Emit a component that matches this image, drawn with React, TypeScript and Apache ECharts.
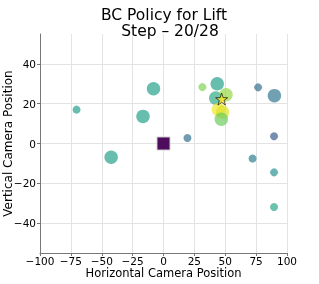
import React, { useEffect, useRef } from "react";
import * as echarts from "echarts";

// Policy samples: horizontal / vertical camera position, colour score, size class
const sampleX = [-70.4, -8.1, -16.6, -42.4, 19.4, 31.5, 43.5, 42.3, 50.6, 44.4, 47.9, 46.8, 76.6, 89.8, 89.5, 72.1, 89.5, 89.5];
const sampleY = [17.0, 27.5, 13.6, -6.9, 2.8, 28.3, 30.0, 22.8, 24.5, 17.0, 15.8, 12.2, 28.2, 24.0, 3.6, -7.5, -14.5, -31.9];
const sampleScore = [0.55, 0.56, 0.56, 0.56, 0.36, 0.8, 0.56, 0.6, 0.84, 0.98, 0.95, 0.77, 0.35, 0.38, 0.28, 0.42, 0.5, 0.58];
const sampleLarge = [0, 1, 1, 1, 0, 0, 1, 1, 1, 1, 1, 1, 0, 1, 0, 0, 0, 0];

const startPoint = [0, 0];
const targetPoint = [47.1, 22.3];

const xTicks = [-100, -75, -50, -25, 0, 25, 50, 75, 100];
const yTicks = [-40, -20, 0, 20, 40];

const viridis = ["#440154", "#482878", "#3e4989", "#31688e", "#26828e", "#1f9e89", "#35b779", "#6ece58", "#b5de2b", "#fde725"];

const FONT = "DejaVu Sans";
const minus = (v: number) => String(v).replace("-", "\u2212");

export default function App() {
  const ref = useRef<HTMLDivElement>(null);
  useEffect(() => {
    const chart = echarts.init(ref.current!, undefined, { renderer: "svg" });
    const samples = sampleX.map((x, i) => [x, sampleY[i], sampleScore[i], sampleLarge[i]]);
    chart.setOption({
      animation: false,
      textStyle: { fontFamily: FONT },
      title: [
        { text: "BC Policy for Lift", left: 159, textAlign: "center", top: 1.5, textStyle: { fontFamily: FONT, fontSize: 15.5, fontWeight: "normal", color: "#000" } },
        { text: "Step \u2013 20/28", left: 165, textAlign: "center", top: 18, textStyle: { fontFamily: FONT, fontSize: 15.5, fontWeight: "normal", color: "#000" } },
      ],
      grid: { left: 40, right: 32, top: 34, bottom: 31, containLabel: false, outerBoundsMode: "none" },
      xAxis: {
        type: "value",
        min: -100,
        max: 100,
        interval: 25,
        name: "Horizontal Camera Position",
        nameLocation: "middle",
        nameGap: 13.5,
        nameMoveOverlap: false,
        nameTextStyle: { fontFamily: FONT, fontSize: 11.5, color: "#000", verticalAlign: "top" },
        axisLine: { show: true, onZero: false, lineStyle: { color: "#777", width: 1 } },
        axisTick: { show: true, length: 3, lineStyle: { color: "#777" }, customValues: xTicks },
        axisLabel: { fontFamily: FONT, fontSize: 10.5, color: "#000", margin: 2.5, customValues: xTicks, formatter: (v: number) => minus(v) },
        splitLine: { show: true, lineStyle: { color: "#e3e3e3", width: 1 } },
      },
      yAxis: {
        type: "value",
        min: -55,
        max: 55,
        interval: 20,
        name: "Vertical Camera Position",
        nameLocation: "middle",
        nameGap: 26,
        nameMoveOverlap: false,
        nameTextStyle: { fontFamily: FONT, fontSize: 12, color: "#000" },
        axisLine: { show: true, onZero: false, lineStyle: { color: "#777", width: 1 } },
        axisTick: { show: true, length: 3, lineStyle: { color: "#777" }, customValues: yTicks },
        axisLabel: { fontFamily: FONT, fontSize: 10.5, color: "#000", margin: 4, customValues: yTicks, formatter: (v: number) => minus(v) },
        splitLine: { show: true, lineStyle: { color: "#e3e3e3", width: 1 } },
      },
      visualMap: {
        show: false,
        type: "continuous",
        min: 0,
        max: 1,
        dimension: 2,
        seriesIndex: 0,
        inRange: { color: viridis },
      },
      series: [
        {
          type: "scatter",
          data: samples,
          symbol: "circle",
          symbolSize: (d: number[]) => (d[3] ? 13.5 : 8),
          itemStyle: { opacity: 0.68 },
        },
        {
          type: "scatter",
          data: [startPoint],
          symbol: "rect",
          symbolSize: 13,
          itemStyle: { color: "#440154", opacity: 0.95, borderColor: "#cfcfcf", borderWidth: 1 },
          z: 3,
        },
        {
          type: "scatter",
          data: [targetPoint],
          symbol: "path://M50,0 L61.8,35.3 L97.6,35.3 L68.8,57.1 L79.4,92.4 L50,71 L20.6,92.4 L31.2,57.1 L2.4,35.3 L38.2,35.3 Z",
          symbolSize: 12,
          itemStyle: { color: "#fde725", borderColor: "#000", borderWidth: 0.8 },
          z: 4,
        },
      ],
    });
    return () => chart.dispose();
  }, []);
  return <div ref={ref} style={{ position: "fixed", left: 0, top: 0, width: 319, height: 284 }} />;
}
